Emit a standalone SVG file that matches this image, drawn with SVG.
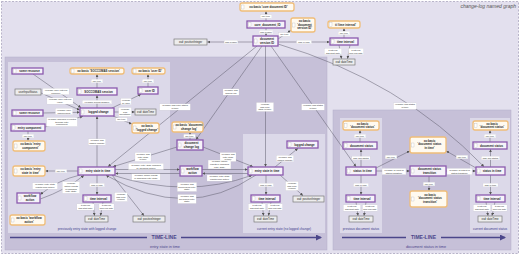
<svg xmlns="http://www.w3.org/2000/svg" width="520" height="256" viewBox="0 0 520 256">
<style>
.pb{fill:#f6f3f9;stroke:#8b5aae;stroke-width:1.3}
.ob{fill:#fffaf0;stroke:#f0bd78;stroke-width:1.3}
.gb{fill:#ededed;stroke:#7a7a7a;stroke-width:.7}
.ic{fill:#fff;stroke:#b0b0b0;stroke-width:.3}
text{font-family:"Liberation Sans",Arial,sans-serif;text-anchor:middle}
.n{font-size:2.9px;font-weight:bold;fill:#1e1e1e}
.gn{font-size:2.7px;fill:#1e1e1e}
.lb rect{fill:#fff;stroke:#c8c8c8;stroke-width:.2}
.lb text{font-size:2.3px;fill:#333}
.e path{stroke:#5d5b6b;stroke-width:.5;fill:none;marker-end:url(#a)}
.bx{font-size:3.2px;fill:#3c3a8c}
.tl{stroke:#4b468a;stroke-width:1.6;fill:none}
.tt{font-size:5px;font-weight:bold;fill:#4b468a}
.ts{font-size:3.8px;fill:#4b468a}
</style>
<defs>
<marker id="a" viewBox="0 0 6 6" refX="6" refY="3" markerWidth="3" markerHeight="3" orient="auto" markerUnits="userSpaceOnUse"><path d="M0,0L6,3L0,6z" fill="#555"/></marker>
<marker id="ta" viewBox="0 0 6 6" refX="5" refY="3" markerWidth="6" markerHeight="6" orient="auto" markerUnits="userSpaceOnUse"><path d="M0,0L6,3L0,6z" fill="#4b468a"/></marker>
</defs>
<rect x="1.5" y="1.5" width="517" height="252" fill="#e3e0ee" stroke="#a09cb8" stroke-width=".7" stroke-dasharray="2,1.5"/>
<text x="516" y="8" style="font-size:5px;font-style:italic;fill:#555;text-anchor:end">change-log named graph</text>
<g id="panels">
<rect x="5" y="57" width="322" height="193" fill="#c6c0d8" stroke="#b5aecb" stroke-width=".5"/>
<rect x="8" y="62" width="162" height="171" fill="#dcd9e9"/>
<rect x="243" y="134" width="82" height="99" fill="#dcd9e9"/>
<rect x="333" y="110" width="178" height="140" fill="#c6c0d8" stroke="#b5aecb" stroke-width=".5"/>
<rect x="340" y="118" width="42" height="115" fill="#dcd9e9"/>
<rect x="470" y="118" width="40" height="115" fill="#dcd9e9"/>
<text class="bx" x="87" y="230">previously entry state with logged change</text>
<text class="bx" x="284" y="230">current entry state (no logged change)</text>
<text class="bx" x="361" y="230">previous document status</text>
<text class="bx" x="490" y="230">current document status</text>
<path class="tl" d="M10 237.5H147M181 237.5H321" marker-end="url(#ta)"/>
<text class="tt" x="164" y="239.3">TIME-LINE</text>
<text class="ts" x="165" y="247.5">entry state in time</text>
<path class="tl" d="M342 237.5H406M441 237.5H505" marker-end="url(#ta)"/>
<text class="tt" x="423.5" y="239.3">TIME-LINE</text>
<text class="ts" x="426" y="247.5">document status in time</text>
</g>
<g id="connectors">
<g class="e">
<path d="M266 21V11.3"/><path d="M266 28V35.7"/><path d="M278 39L290.7 30.5"/><path d="M253 42H207.3"/><path d="M278 42H329.7"/><path d="M344 38V28.3"/><path d="M339 45L341.5 58.7"/><path d="M350 45L347.5 58.7"/>
<path d="M97 88V74.3"/><path d="M148 87V74.3"/><path d="M33 74L81 107.7"/><path d="M41 93L79.7 110"/><path d="M43 113L79.7 112.3"/><path d="M45 127L83 116.3"/><path d="M97 108V95.3"/><path d="M112 108L141 94.3"/><path d="M114 112H134.7"/><path d="M113 116L131.7 124"/><path d="M97 167V116.3"/><path d="M28 131V140.7"/><path d="M78 171H45.3"/>
<path d="M80 175Q58 180 40.3 194.5"/><path d="M40.3 199Q66 190 84 175.3"/><path d="M97 175V194.7"/><path d="M93 202L94.5 215.7"/><path d="M103 202L100.5 215.7"/><path d="M112 175L144 215.7"/>
<path d="M257 46L108 166.7"/><path d="M262 46L196 139.7"/><path d="M190 140V132.3"/><path d="M177 147L113 166.7"/><path d="M203 147L253 166.7"/><path d="M115 169.5H179.7"/><path d="M180 173.5H115.3"/><path d="M202 169.5H247.7"/><path d="M248 173.5H202.3"/>
<path d="M112 175Q187 199 252 175.3"/><path d="M256 175Q187 222 106 175.3"/>
<path d="M265.5 46V166.7"/><path d="M275 167L298 148.3"/><path d="M266 175V194.7"/><path d="M262 202L263.5 215.7"/><path d="M271 202L268.5 215.7"/><path d="M280 175L303 195.7"/>
<path d="M271 46L356 166.7"/><path d="M278 44Q400 80 484 166.7"/>
<path d="M361 167V149.3"/><path d="M360 142V130.3"/><path d="M361 175V194.7"/><path d="M356 202L358 215.7"/><path d="M366 202L364 215.7"/><path d="M376 168L409.7 151"/><path d="M476 168L446.3 151"/><path d="M376 171H409.7"/><path d="M446 171H475.7"/><path d="M429 176V190.7"/>
<path d="M490.5 167V149.3"/><path d="M490 142V130.3"/><path d="M490.5 175V194.7"/><path d="M486 202L488 215.7"/><path d="M495 202L492 215.7"/>
</g>
<g class="lb">
<rect x="260.2" y="14.75" width="11.6" height="3.5"/><text x="266" y="17.15">rdf: type</text>
<rect x="259.1" y="30.25" width="13.8" height="3.5"/><text x="266" y="32.65">has version</text>
<rect x="278.7" y="32.75" width="11.6" height="3.5"/><text x="284.5" y="35.15">rdf: type</text>
<rect x="224.1" y="40.25" width="13.8" height="3.5"/><text x="231" y="42.65">has version</text>
<rect x="296.5" y="40.25" width="15" height="3.5"/><text x="304" y="42.65">has: in time</text>
<rect x="338.2" y="31.25" width="11.6" height="3.5"/><text x="344" y="33.65">rdf: type</text>
<rect x="324.4" y="48.4" width="17.2" height="6.2"/><text x="333" y="50.8">ti:interval</text><text x="333" y="53.5">has start date</text>
<rect x="348.5" y="48.4" width="15" height="6.2"/><text x="356" y="50.8">ti:interval</text><text x="356" y="53.5">has end date</text>
<rect x="91.2" y="79.25" width="11.6" height="3.5"/><text x="97" y="81.65">rdf: type</text>
<rect x="142.2" y="79.25" width="11.6" height="3.5"/><text x="148" y="81.65">rdf: type</text>
<rect x="42.95" y="88.4" width="26.1" height="6.2"/><text x="56" y="90.8">xo:basic 'user entered</text><text x="56" y="93.5">resource'</text>
<rect x="46.95" y="97.9" width="26.1" height="6.2"/><text x="60" y="100.3">xo:basic 'user entered</text><text x="60" y="103">value'</text>
<rect x="55.4" y="108.4" width="17.2" height="6.2"/><text x="64" y="110.8">xo:basic 'user</text><text x="64" y="113.5">independent'</text>
<rect x="46.7" y="117.55" width="30.6" height="8.9"/><text x="62" y="119.95">xo:basic 'changes executed</text><text x="62" y="122.65">through entry</text><text x="62" y="125.35">component'</text>
<rect x="82.25" y="100.25" width="29.5" height="3.5"/><text x="97" y="102.65">xo:basic 'during session'</text>
<rect x="120.75" y="98.4" width="10.5" height="6.2"/><text x="126" y="100.8">xo:basic</text><text x="126" y="103.5">'by user'</text>
<rect x="118.65" y="107.55" width="12.7" height="8.9"/><text x="125" y="109.95">xo:basic</text><text x="125" y="112.65">'has</text><text x="125" y="115.35">timestamp'</text>
<rect x="115.7" y="117.75" width="11.6" height="3.5"/><text x="121.5" y="120.15">rdf: type</text>
<rect x="88.4" y="138.9" width="17.2" height="6.2"/><text x="97" y="141.3">xo:basic 'has</text><text x="97" y="144">logged change'</text>
<rect x="22.2" y="134.25" width="11.6" height="3.5"/><text x="28" y="136.65">rdf: type</text>
<rect x="55.2" y="169.25" width="11.6" height="3.5"/><text x="61" y="171.65">rdf: type</text>
<rect x="32.5" y="182.9" width="25" height="6.2"/><text x="45" y="185.3">xo:basic 'entry state</text><text x="45" y="188">results from action'</text>
<rect x="62.4" y="181.7" width="17.2" height="11.6"/><text x="71" y="184.1">xo:basic</text><text x="71" y="186.8">'action results</text><text x="71" y="189.5">in changing</text><text x="71" y="192.2">entry state'</text>
<rect x="89.5" y="183.25" width="15" height="3.5"/><text x="97" y="185.65">has: in time</text>
<rect x="76.9" y="203.9" width="17.2" height="6.2"/><text x="85.5" y="206.3">ti:interval</text><text x="85.5" y="209">has start date</text>
<rect x="99" y="203.9" width="15" height="6.2"/><text x="106.5" y="206.3">ti:interval</text><text x="106.5" y="209">has end date</text>
<rect x="114.65" y="192.55" width="12.7" height="8.9"/><text x="121" y="194.95">xo:basic</text><text x="121" y="197.65">'has entry</text><text x="121" y="200.35">version'</text>
<rect x="159.7" y="103.9" width="30.6" height="6.2"/><text x="175" y="106.3">xo:basic 'has entry states</text><text x="175" y="109">in time'</text>
<rect x="223" y="88.9" width="16" height="6.2"/><text x="231" y="91.3">xo:basic 'has</text><text x="231" y="94">change log'</text>
<rect x="183.7" y="134.25" width="11.6" height="3.5"/><text x="189.5" y="136.65">rdf: type</text>
<rect x="135" y="152.55" width="16" height="8.9"/><text x="143" y="154.95">xo:basic 'has</text><text x="143" y="157.65">entry state</text><text x="143" y="160.35">in time'</text>
<rect x="220" y="152.55" width="16" height="8.9"/><text x="228" y="154.95">xo:basic 'has</text><text x="228" y="157.65">entry state</text><text x="228" y="160.35">in time'</text>
<rect x="128.45" y="163.4" width="35.1" height="6.2"/><text x="146" y="165.8">xo:basic 'entry state changed</text><text x="146" y="168.5">by workflow action'</text>
<rect x="131.8" y="173.9" width="28.4" height="6.2"/><text x="146" y="176.3">xo:basic 'action results</text><text x="146" y="179">in changing entry state'</text>
<rect x="208.1" y="160.05" width="22.8" height="8.9"/><text x="219.5" y="162.45">xo:basic 'action</text><text x="219.5" y="165.15">results in changing</text><text x="219.5" y="167.85">entry state'</text>
<rect x="207" y="174.9" width="25" height="6.2"/><text x="219.5" y="177.3">xo:basic 'entry state</text><text x="219.5" y="180">results from action'</text>
<rect x="177.3" y="182.55" width="19.4" height="8.9"/><text x="187" y="184.95">xo:basic 'has</text><text x="187" y="187.65">succeeding entry</text><text x="187" y="190.35">state'</text>
<rect x="177.85" y="194.55" width="18.3" height="8.9"/><text x="187" y="196.95">xo:basic 'has</text><text x="187" y="199.65">preceding entry</text><text x="187" y="202.35">state'</text>
<rect x="256.4" y="102.55" width="17.2" height="8.9"/><text x="265" y="104.95">xo:basic</text><text x="265" y="107.65">'has entry</text><text x="265" y="110.35">state in time'</text>
<rect x="276.4" y="155.4" width="17.2" height="6.2"/><text x="285" y="157.8">xo:basic 'has</text><text x="285" y="160.5">logged change'</text>
<rect x="258.5" y="183.25" width="15" height="3.5"/><text x="266" y="185.65">has: in time</text>
<rect x="248.4" y="203.9" width="17.2" height="6.2"/><text x="257" y="206.3">ti:interval</text><text x="257" y="209">has start date</text>
<rect x="267.5" y="203.9" width="15" height="6.2"/><text x="275" y="206.3">ti:interval</text><text x="275" y="209">has end date</text>
<rect x="285.65" y="181.55" width="12.7" height="8.9"/><text x="292" y="183.95">xo:basic</text><text x="292" y="186.65">'has entry</text><text x="292" y="189.35">version'</text>
<rect x="301.6" y="103.9" width="22.8" height="6.2"/><text x="313" y="106.3">xo:basic 'has status</text><text x="313" y="109">in time'</text>
<rect x="393.6" y="102.9" width="22.8" height="6.2"/><text x="405" y="105.3">xo:basic 'has status</text><text x="405" y="108">in time'</text>
<rect x="351.85" y="156.25" width="18.3" height="3.5"/><text x="361" y="158.65">has: doc status</text>
<rect x="354.2" y="134.25" width="11.6" height="3.5"/><text x="360" y="136.65">rdf: type</text>
<rect x="353.5" y="183.25" width="15" height="3.5"/><text x="361" y="185.65">has: in time</text>
<rect x="343.4" y="204.9" width="17.2" height="6.2"/><text x="352" y="207.3">ti:interval</text><text x="352" y="210">has start date</text>
<rect x="362.5" y="204.9" width="15" height="6.2"/><text x="370" y="207.3">ti:interval</text><text x="370" y="210">has end date</text>
<rect x="385.2" y="155.25" width="11.6" height="3.5"/><text x="391" y="157.65">rdf: type</text>
<rect x="456.2" y="155.25" width="11.6" height="3.5"/><text x="462" y="157.65">rdf: type</text>
<rect x="382.05" y="168.4" width="23.9" height="6.2"/><text x="394" y="170.8">xo:basic 'is input of</text><text x="394" y="173.5">status transition'</text>
<rect x="447" y="168.4" width="25" height="6.2"/><text x="459.5" y="170.8">xo:basic 'is output of</text><text x="459.5" y="173.5">status transition'</text>
<rect x="423.2" y="182.25" width="11.6" height="3.5"/><text x="429" y="184.65">rdf: type</text>
<rect x="481.35" y="156.25" width="18.3" height="3.5"/><text x="490.5" y="158.65">has: doc status</text>
<rect x="484.2" y="134.25" width="11.6" height="3.5"/><text x="490" y="136.65">rdf: type</text>
<rect x="483" y="183.25" width="15" height="3.5"/><text x="490.5" y="185.65">has: in time</text>
<rect x="473.4" y="204.9" width="17.2" height="6.2"/><text x="482" y="207.3">ti:interval</text><text x="482" y="210">has start date</text>
<rect x="492" y="204.9" width="15" height="6.2"/><text x="499.5" y="207.3">ti:interval</text><text x="499.5" y="210">has end date</text>
</g>
</g>
<g id="n-core-type"><rect class="ob" x="240" y="3" width="54" height="8" rx="2"/><rect class="ic" x="241.5" y="5" width="2.5" height="4"/><text class="n" x="268.5" y="8">xo:basic 'core document ID'</text></g>
<g id="n-core"><rect class="pb" x="247" y="21" width="38" height="7"/><rect class="ic" x="248.5" y="22.5" width="2.5" height="4"/><text class="n" x="267.5" y="25.5">core_document_ID</text></g>
<g id="n-docver"><rect class="pb" x="253" y="36" width="25" height="10"/><rect class="ic" x="254.5" y="39" width="2.5" height="4"/><text class="n" x="267" y="40.3">document</text><text class="n" x="267" y="43.7">version ID</text></g>
<g id="n-docver-type"><rect class="ob" x="291" y="18" width="24" height="14" rx="2"/><rect class="ic" x="292.5" y="23" width="2.5" height="4"/><text class="n" x="304.5" y="22.2">xo:basic</text><text class="n" x="304.5" y="25.6">'document</text><text class="n" x="304.5" y="29">version ID'</text></g>
<g id="n-posint-top"><rect class="gb" x="174" y="39" width="33" height="6"/><text class="gn" x="190.5" y="43">xsd: positiveInteger</text></g>
<g id="n-ti-top"><rect class="pb" x="330" y="38" width="28" height="7"/><rect class="ic" x="331.5" y="39.5" width="2.5" height="4"/><text class="n" x="345.5" y="42.5">time interval</text></g>
<g id="n-ti-type"><rect class="ob" x="328" y="21" width="32" height="7" rx="2"/><rect class="ic" x="329.5" y="22.5" width="2.5" height="4"/><text class="n" x="345.5" y="25.5">ti:'time interval'</text></g>
<g id="n-dt-top"><rect class="gb" x="333" y="59" width="22" height="6"/><text class="gn" x="344" y="63">xsd: dateTime</text></g>
<g id="n-sr1"><rect class="pb" x="12" y="68" width="31" height="6"/><rect class="ic" x="13.5" y="69" width="2.5" height="4"/><text class="n" x="29.5" y="72">some resource</text></g>
<g id="n-soc-type"><rect class="ob" x="70" y="68" width="54" height="6" rx="2"/><rect class="ic" x="71.5" y="69" width="2.5" height="4"/><text class="n" x="98.5" y="72">xo:basic 'SOCCOMAS session'</text></g>
<g id="n-uid-type"><rect class="ob" x="132" y="68" width="33" height="6" rx="2"/><rect class="ic" x="133.5" y="69" width="2.5" height="4"/><text class="n" x="150" y="72">xo:basic 'user ID'</text></g>
<g id="n-soc"><rect class="pb" x="77" y="88" width="40" height="7"/><rect class="ic" x="78.5" y="89.5" width="2.5" height="4"/><text class="n" x="98.5" y="92.5">SOCCOMAS session</text></g>
<g id="n-uid"><rect class="pb" x="138" y="87" width="20" height="7"/><rect class="ic" x="139.5" y="88.5" width="2.5" height="4"/><text class="n" x="150" y="91.5">user ID</text></g>
<g id="n-uis"><rect class="gb" x="15" y="89" width="26" height="6"/><text class="gn" x="28" y="93">userInputStatus</text></g>
<g id="n-logged"><rect class="pb" x="80" y="108" width="34" height="8"/><rect class="ic" x="81.5" y="110" width="2.5" height="4"/><text class="n" x="98.5" y="113">logged change</text></g>
<g id="n-sr2"><rect class="pb" x="12" y="110" width="31" height="6"/><rect class="ic" x="13.5" y="111" width="2.5" height="4"/><text class="n" x="29.5" y="114">some resource</text></g>
<g id="n-dt-a1"><rect class="gb" x="135" y="109" width="21" height="6"/><text class="gn" x="145.5" y="113">xsd: dateTime</text></g>
<g id="n-logged-type"><rect class="ob" x="132" y="123" width="27" height="10" rx="2"/><rect class="ic" x="133.5" y="126" width="2.5" height="4"/><text class="n" x="147" y="127.2">xo:basic</text><text class="n" x="147" y="130.6">'logged change'</text></g>
<g id="n-ecomp"><rect class="pb" x="11" y="124" width="34" height="7"/><rect class="ic" x="12.5" y="125.5" width="2.5" height="4"/><text class="n" x="29.5" y="128.5">entry component</text></g>
<g id="n-ecomp-type"><rect class="ob" x="13" y="141" width="32" height="10" rx="2"/><rect class="ic" x="14.5" y="144" width="2.5" height="4"/><text class="n" x="30.5" y="145.2">xo:basic 'entry</text><text class="n" x="30.5" y="148.6">component'</text></g>
<g id="n-esit-type"><rect class="ob" x="13" y="166" width="32" height="10" rx="2"/><rect class="ic" x="14.5" y="169" width="2.5" height="4"/><text class="n" x="30.5" y="170.2">xo:basic 'entry</text><text class="n" x="30.5" y="173.6">state in time'</text></g>
<g id="n-esit-a"><rect class="pb" x="78" y="167" width="37" height="8"/><rect class="ic" x="79.5" y="169" width="2.5" height="4"/><text class="n" x="98" y="172">entry state in time</text></g>
<g id="n-wf-a"><rect class="pb" x="17" y="193" width="23" height="10"/><rect class="ic" x="18.5" y="196" width="2.5" height="4"/><text class="n" x="30" y="197.3">workflow</text><text class="n" x="30" y="200.7">action</text></g>
<g id="n-wf-type"><rect class="ob" x="10" y="215" width="35" height="10" rx="2"/><rect class="ic" x="11.5" y="218" width="2.5" height="4"/><text class="n" x="29" y="219.2">xo:basic 'workflow</text><text class="n" x="29" y="222.6">action'</text></g>
<g id="n-ti-a"><rect class="pb" x="83" y="195" width="28" height="7"/><rect class="ic" x="84.5" y="196.5" width="2.5" height="4"/><text class="n" x="98.5" y="199.5">time interval</text></g>
<g id="n-dt-a"><rect class="gb" x="85" y="216" width="23" height="6"/><text class="gn" x="96.5" y="220">xsd: dateTime</text></g>
<g id="n-pos-a"><rect class="gb" x="133" y="216" width="32" height="6"/><text class="gn" x="149" y="220">xsd: positiveInteger</text></g>
<g id="n-dcl-type"><rect class="ob" x="172" y="122" width="31" height="10" rx="2"/><rect class="ic" x="173.5" y="125" width="2.5" height="4"/><text class="n" x="189" y="126.2">xo:basic 'document</text><text class="n" x="189" y="129.6">change log'</text></g>
<g id="n-dcl"><rect class="pb" x="177" y="140" width="26" height="10"/><rect class="ic" x="178.5" y="143" width="2.5" height="4"/><text class="n" x="191.5" y="144.3">document</text><text class="n" x="191.5" y="147.7">change log</text></g>
<g id="n-wf-m"><rect class="pb" x="180" y="166" width="22" height="10"/><rect class="ic" x="181.5" y="169" width="2.5" height="4"/><text class="n" x="192.5" y="170.3">workflow</text><text class="n" x="192.5" y="173.7">action</text></g>
<g id="n-esit-c"><rect class="pb" x="248" y="167" width="35" height="8"/><rect class="ic" x="249.5" y="169" width="2.5" height="4"/><text class="n" x="267" y="172">entry state in time</text></g>
<g id="n-logged-c"><rect class="pb" x="287" y="141" width="31" height="7"/><rect class="ic" x="288.5" y="142.5" width="2.5" height="4"/><text class="n" x="304.5" y="145.5">logged change</text></g>
<g id="n-ti-c"><rect class="pb" x="251" y="195" width="29" height="7"/><rect class="ic" x="252.5" y="196.5" width="2.5" height="4"/><text class="n" x="267" y="199.5">time interval</text></g>
<g id="n-dt-c"><rect class="gb" x="254" y="216" width="23" height="6"/><text class="gn" x="265.5" y="220">xsd: dateTime</text></g>
<g id="n-pos-c"><rect class="gb" x="293" y="196" width="31" height="6"/><text class="gn" x="308.5" y="200">xsd: positiveInteger</text></g>
<g id="n-dst-d-type"><rect class="ob" x="343" y="121" width="36" height="9" rx="2"/><rect class="ic" x="344.5" y="123.5" width="2.5" height="4"/><text class="n" x="362.5" y="124.9">xo:basic</text><text class="n" x="362.5" y="128.3">'document status'</text></g>
<g id="n-dst-d"><rect class="pb" x="343" y="142" width="34" height="7"/><rect class="ic" x="344.5" y="143.5" width="2.5" height="4"/><text class="n" x="361.5" y="146.5">document status</text></g>
<g id="n-sit-d"><rect class="pb" x="346" y="167" width="30" height="8"/><rect class="ic" x="347.5" y="169" width="2.5" height="4"/><text class="n" x="362.5" y="172">status in time</text></g>
<g id="n-ti-d"><rect class="pb" x="346" y="195" width="29" height="7"/><rect class="ic" x="347.5" y="196.5" width="2.5" height="4"/><text class="n" x="362" y="199.5">time interval</text></g>
<g id="n-dt-d"><rect class="gb" x="349" y="216" width="24" height="6"/><text class="gn" x="361" y="220">xsd: dateTime</text></g>
<g id="n-dsit-type"><rect class="ob" x="410" y="137" width="36" height="16" rx="2"/><rect class="ic" x="411.5" y="143" width="2.5" height="4"/><text class="n" x="429.5" y="141.8">xo:basic</text><text class="n" x="429.5" y="145.2">'document status</text><text class="n" x="429.5" y="148.6">in time'</text></g>
<g id="n-dst-tr"><rect class="pb" x="410" y="166" width="36" height="10"/><rect class="ic" x="411.5" y="169" width="2.5" height="4"/><text class="n" x="429.5" y="170.3">document status</text><text class="n" x="429.5" y="173.7">transition</text></g>
<g id="n-dst-tr-type"><rect class="ob" x="410" y="191" width="37" height="16" rx="2"/><rect class="ic" x="411.5" y="197" width="2.5" height="4"/><text class="n" x="430" y="195.8">xo:basic</text><text class="n" x="430" y="199.2">'document status</text><text class="n" x="430" y="202.6">transition'</text></g>
<g id="n-dst-e-type"><rect class="ob" x="473" y="121" width="35" height="9" rx="2"/><rect class="ic" x="474.5" y="123.5" width="2.5" height="4"/><text class="n" x="492" y="124.9">xo:basic</text><text class="n" x="492" y="128.3">'document status'</text></g>
<g id="n-dst-e"><rect class="pb" x="473" y="142" width="34" height="7"/><rect class="ic" x="474.5" y="143.5" width="2.5" height="4"/><text class="n" x="491.5" y="146.5">document status</text></g>
<g id="n-sit-e"><rect class="pb" x="476" y="167" width="29" height="8"/><rect class="ic" x="477.5" y="169" width="2.5" height="4"/><text class="n" x="492" y="172">status in time</text></g>
<g id="n-ti-e"><rect class="pb" x="476" y="195" width="29" height="7"/><rect class="ic" x="477.5" y="196.5" width="2.5" height="4"/><text class="n" x="492" y="199.5">time interval</text></g>
<g id="n-dt-e"><rect class="gb" x="478" y="216" width="24" height="6"/><text class="gn" x="490" y="220">xsd: dateTime</text></g>
</svg>
